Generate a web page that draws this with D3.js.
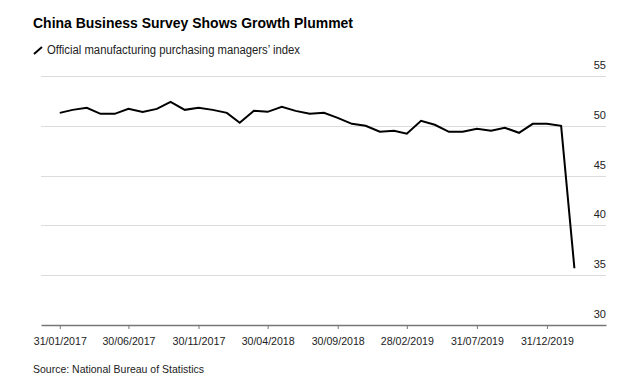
<!DOCTYPE html>
<html>
<head>
<meta charset="utf-8">
<script src="https://cdn.jsdelivr.net/npm/d3@7"></script>
<style>
  body { margin: 0; background: #fff; }
  svg { display: block; font-family: "Liberation Sans", Arial, sans-serif; }
</style>
</head>
<body>
<div id="chart"></div>
<script>
// official manufacturing PMI, month-end dates
let months = [
  "2017-01", "2017-02", "2017-03", "2017-04", "2017-05", "2017-06",
  "2017-07", "2017-08", "2017-09", "2017-10", "2017-11", "2017-12",
  "2018-01", "2018-02", "2018-03", "2018-04", "2018-05", "2018-06",
  "2018-07", "2018-08", "2018-09", "2018-10", "2018-11", "2018-12",
  "2019-01", "2019-02", "2019-03", "2019-04", "2019-05", "2019-06",
  "2019-07", "2019-08", "2019-09", "2019-10", "2019-11", "2019-12",
  "2020-01", "2020-02"
];
let pmi = [
  51.3, 51.6, 51.8, 51.2, 51.2, 51.7, 51.4, 51.7, 52.4, 51.6, 51.8, 51.6,
  51.3, 50.3, 51.5, 51.4, 51.9, 51.5, 51.2, 51.3, 50.8, 50.2, 50.0, 49.4,
  49.5, 49.2, 50.5, 50.1, 49.4, 49.4, 49.7, 49.5, 49.8, 49.3, 50.2, 50.2,
  50.0, 35.7
];
let xTickLabels = ["31/01/2017", "30/06/2017", "30/11/2017", "30/04/2018",
  "30/09/2018", "28/02/2019", "31/07/2019", "31/12/2019"];
let yTicks = [30, 35, 40, 45, 50, 55];

let width = 640, height = 390;
let parseMonth = d3.timeParse("%Y-%m");
let parseTick = d3.timeParse("%d/%m/%Y");
// last day of each month
let monthEnd = m => d3.timeDay.offset(d3.timeMonth.offset(parseMonth(m), 1), -1);

let data = months.map((m, i) => ({date: monthEnd(m), value: pmi[i]}));

let svg = d3.select("#chart")
  .append("svg")
  .attr("width", width)
  .attr("height", height);

let x = d3.scaleTime()
  .domain([new Date(2016, 11, 21), new Date(2020, 4, 8)])
  .range([41, 606]);
let y = d3.scaleLinear()
  .domain([30, 55])
  .range([325, 76]);

// title + subtitle (font is a bit narrower in the original, squeeze it)
svg.append("text")
  .attr("x", 33).attr("y", 28)
  .attr("font-size", "15px")
  .attr("font-weight", "bold")
  .attr("fill", "#000")
  .attr("textLength", 320)
  .attr("lengthAdjust", "spacingAndGlyphs")
  .text("China Business Survey Shows Growth Plummet");

svg.append("line")
  .attr("x1", 34).attr("y1", 54)
  .attr("x2", 42).attr("y2", 47)
  .attr("stroke", "#000")
  .attr("stroke-width", 2);
svg.append("text")
  .attr("x", 47).attr("y", 54)
  .attr("font-size", "12px")
  .attr("fill", "#222")
  .attr("textLength", 253)
  .attr("lengthAdjust", "spacingAndGlyphs")
  .text("Official manufacturing purchasing managers\u2019 index");

// gridlines + right labels
let grid = svg.append("g");
yTicks.filter(t => t > 30).forEach(t => {
  grid.append("line")
    .attr("x1", 41).attr("x2", 606)
    .attr("y1", Math.round(y(t)) + 0.5).attr("y2", Math.round(y(t)) + 0.5)
    .attr("stroke", "#dcdcdc")
    .attr("stroke-width", 1);
});
yTicks.forEach(t => {
  grid.append("text")
    .attr("x", 606)
    .attr("y", y(t) - 7)
    .attr("text-anchor", "end")
    .attr("font-size", "11px")
    .attr("fill", "#222")
    .text(t);
});

// x axis
let xAxis = d3.axisBottom(x)
  .tickValues(xTickLabels.map(parseTick))
  .tickFormat(d3.timeFormat("%d/%m/%Y"))
  .tickSize(4)
  .tickSizeOuter(0);
let ax = svg.append("g")
  .attr("transform", "translate(0,325)")
  .call(xAxis);
ax.select(".domain")
  .attr("stroke", "#777")
  .attr("stroke-width", 1.5);
ax.selectAll(".tick line").attr("stroke", "#777");
ax.selectAll(".tick text")
  .attr("font-family", "Liberation Sans, Arial, sans-serif")
  .attr("font-size", "11px")
  .attr("fill", "#222")
  .attr("textLength", 53)
  .attr("lengthAdjust", "spacingAndGlyphs")
  .attr("dy", "0")
  .attr("y", 20);

// the series
let line = d3.line()
  .x(d => x(d.date))
  .y(d => y(d.value));
svg.append("path")
  .datum(data)
  .attr("fill", "none")
  .attr("stroke", "#000")
  .attr("stroke-width", 2)
  .attr("stroke-linejoin", "miter")
  .attr("d", line);

svg.append("text")
  .attr("x", 33).attr("y", 373)
  .attr("font-size", "11px")
  .attr("fill", "#222")
  .attr("textLength", 171)
  .attr("lengthAdjust", "spacingAndGlyphs")
  .text("Source: National Bureau of Statistics");
</script>
</body>
</html>
